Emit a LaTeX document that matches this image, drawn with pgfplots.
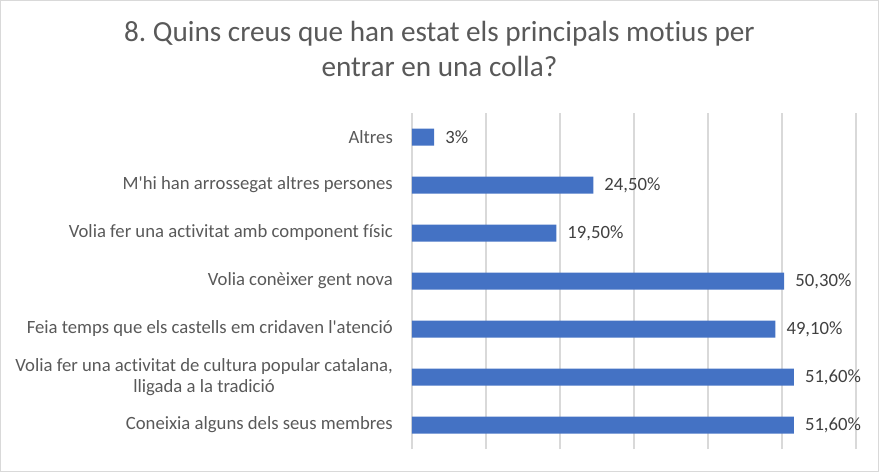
\documentclass[border=0pt]{standalone}
\usepackage{pgfplots}
\pgfplotsset{compat=1.18}
\usepackage{fontspec}
\setmainfont{Carlito}[Ligatures={NoCommon}]
\definecolor{barblue}{HTML}{4472C4}
\definecolor{titlegray}{HTML}{595959}
\definecolor{labgray}{HTML}{595959}
\definecolor{valgray}{HTML}{404040}
\definecolor{gridgray}{HTML}{D9D9D9}
\frenchspacing
\begin{document}
\begin{tikzpicture}[x=1pt,y=1pt]
\useasboundingbox (0,0) rectangle (879,472);
\draw[gridgray, line width=1.2pt] (0.6,0.6) rectangle (878.4,471.4);
\node[anchor=base, inner sep=0pt, text=titlegray, font=\fontsize{29.2}{34}\selectfont] at (439.5,430) {8. Quins creus que han estat els principals motius per};
\node[anchor=base, inner sep=0pt, text=titlegray, font=\fontsize{29.2}{34}\selectfont] at (439.5,395) {entrar en una colla?};
\begin{axis}[
  at={(412pt,23pt)}, anchor=south west,
  scale only axis, width=444pt, height=336pt,
  xbar, bar width=17pt,
  xmin=0, xmax=60, ymin=-0.5, ymax=6.5,
  xtick={0,10,...,60}, xticklabels={},
  xmajorgrids, grid style={gridgray, line width=1.3pt},
  major tick length=0pt,
  axis line style={draw=none},
  ytick={0,1,2,3,4,5,6},
  yticklabels={Coneixia alguns dels seus membres,
    {Volia fer una activitat de cultura popular catalana,\\lligada a la tradició},
    Feia temps que els castells em cridaven l\textquotesingle atenció,
    Volia conèixer gent nova,
    Volia fer una activitat amb component físic,
    M\textquotesingle hi han arrossegat altres persones,
    Altres},
  yticklabel style={align=center, text=labgray, font=\fontsize{18.7}{21.5}\selectfont, inner sep=0pt, xshift=-19pt},
  point meta=explicit symbolic,
  nodes near coords,
  nodes near coords style={anchor=west, inner sep=0pt, xshift=11pt, text=valgray, font=\fontsize{18.7}{21}\selectfont},
]
\addplot[fill=barblue, draw=none] coordinates {
  (51.6,0) [51,60\%]
  (51.6,1) [51,60\%]
  (49.1,2) [49,10\%]
  (50.3,3) [50,30\%]
  (19.5,4) [19,50\%]
  (24.5,5) [24,50\%]
  (3,6) [3\%]
};
\end{axis}
\end{tikzpicture}
\end{document}
